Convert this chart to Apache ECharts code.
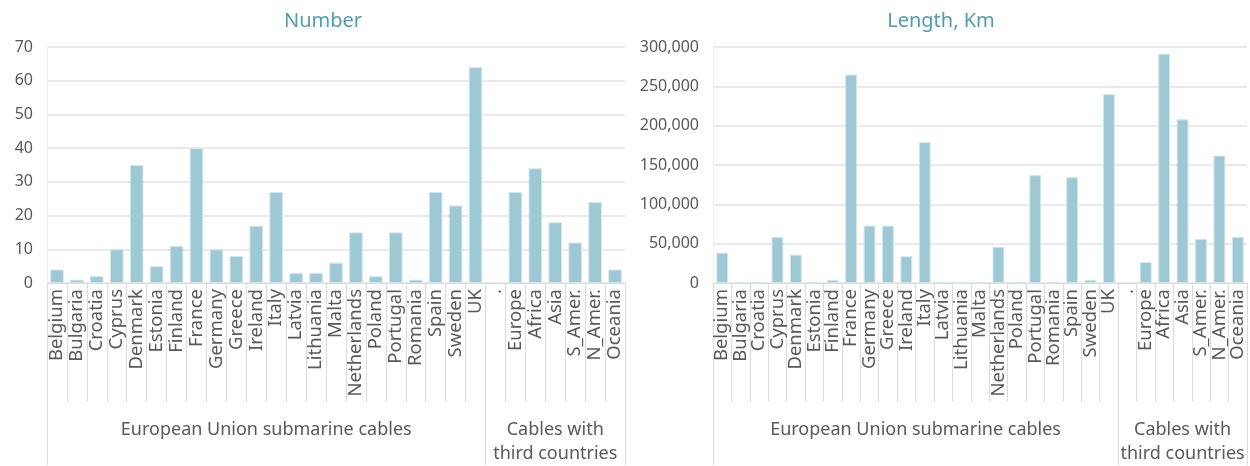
<!DOCTYPE html>
<html>
<head>
<meta charset="utf-8">
<script src="https://cdn.jsdelivr.net/npm/echarts@6/dist/echarts.min.js"></script>
<style>
html,body{margin:0;padding:0;background:#fff;}
#chart{width:1250px;height:466px;}
</style>
</head>
<body>
<div id="chart"></div>
<script>
const categories = ['Belgium','Bulgaria','Croatia','Cyprus','Denmark','Estonia','Finland','France','Germany','Greece','Ireland','Italy','Latvia','Lithuania','Malta','Netherlands','Poland','Portugal','Romania','Spain','Sweden','UK','.','Europe','Africa','Asia','S_Amer.','N_Amer.','Oceania'];
const numberValues = [4,1,2,10,35,5,11,40,10,8,17,27,3,3,6,15,2,15,1,27,23,64,null,27,34,18,12,24,4];
const lengthValues = [38500,300,300,58500,36000,300,4000,265000,73000,73000,34000,179000,300,300,300,46000,300,137000,300,134500,4000,240000,null,26500,291500,208000,56000,162000,58500];
const groups = ['European Union submarine cables','Cables with\nthird countries'];
const groupBounds = [0,22,29];
const groupCenters = [11,25.5];
const titles = ['Number','Length, Km'];
const yMax = [70,300000];
const yInterval = [10,50000];

const FONT = 'Noto Sans';
const TXT = '#595959';
const GRID = '#e3e3e3';
const SEP = '#dcdcdc';
const BAR = '#9dc8d4';

const grids = [
  {left:47, top:47, width:578, height:237},
  {left:713, top:47, width:534, height:237}
];

function fmt(v){ return String(v).replace(/\B(?=(\d{3})+(?!\d))/g, ','); }

const option = {
  animation:false,
  backgroundColor:'#fff',
  title:[
    {text:titles[0], left:318, top:6, textAlign:'center', textStyle:{fontFamily:FONT,fontSize:20,fontWeight:'normal',color:'#4f9db2'}},
    {text:titles[1], left:936, top:6, textAlign:'center', textStyle:{fontFamily:FONT,fontSize:20,fontWeight:'normal',color:'#4f9db2'}}
  ],
  grid:grids,
  xAxis:[],
  yAxis:[],
  series:[]
};

[0,1].forEach(function(g){
  option.xAxis.push({
    type:'category', gridIndex:g, data:categories,
    axisLine:{show:true,lineStyle:{color:SEP,width:1}},
    axisTick:{show:true,interval:0,length:119,lineStyle:{color:SEP}},
    axisLabel:{interval:0,rotate:90,margin:6,color:TXT,fontFamily:FONT,fontSize:18.5},
    splitLine:{show:false}
  });
  option.xAxis.push({
    type:'value', gridIndex:g, min:0, max:29, position:'bottom',
    axisLine:{show:false},
    axisTick:{show:true,customValues:groupBounds,length:182,lineStyle:{color:SEP}},
    axisLabel:{show:true,customValues:groupCenters,margin:135,color:TXT,fontFamily:FONT,fontSize:18,lineHeight:24,
      formatter:function(v){ return v===groupCenters[0]?groups[0]:groups[1]; }},
    splitLine:{show:false}
  });
  option.yAxis.push({
    type:'value', gridIndex:g, min:0, max:yMax[g], interval:yInterval[g],
    axisLine:{show:true,lineStyle:{color:'#f0f0f0'}},
    axisTick:{show:false},
    axisLabel:{color:TXT,fontFamily:FONT,fontSize:16,margin:14,formatter:function(v){return fmt(v);}},
    splitLine:{show:true,lineStyle:{color:GRID,width:1.5}}
  });
  option.series.push({
    type:'bar', xAxisIndex:g*2, yAxisIndex:g,
    data: g===0?numberValues:lengthValues,
    barCategoryGap: g===0?'32%':'36%',
    itemStyle:{color:BAR,borderColor:'#cfe6ee',borderWidth:1}
  });
});

const chart = echarts.init(document.getElementById('chart'),null,{renderer:'canvas'});
chart.setOption(option);
</script>
</body>
</html>
